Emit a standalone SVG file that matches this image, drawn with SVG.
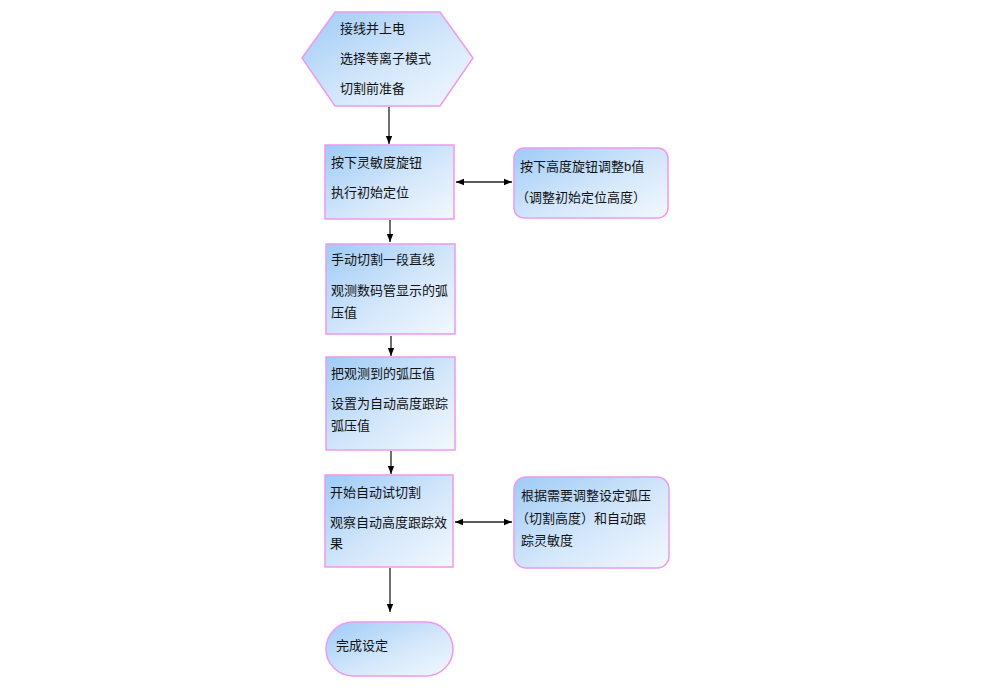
<svg xmlns="http://www.w3.org/2000/svg" width="1000" height="696" viewBox="0 0 1000 696">
<defs>
<linearGradient id="g" x1="0" y1="0" x2="1" y2="1">
<stop offset="0" stop-color="#9ecbf6"/>
<stop offset="0.55" stop-color="#d4e7fb"/>
<stop offset="1" stop-color="#f2f8fe"/>
</linearGradient>
<marker id="ah" viewBox="0 0 10 10" refX="10" refY="5" markerWidth="8" markerHeight="8" orient="auto-start-reverse" markerUnits="userSpaceOnUse">
<path d="M0,1 L10,5 L0,9 Z" fill="#000"/>
</marker>
<style>
.n{fill:url(#g);stroke:#ee99ee;stroke-width:1.5}
.t{font-family:"Liberation Sans","Noto Sans CJK SC",sans-serif;font-size:13px;fill:#111;dominant-baseline:central}
.c{stroke:#222;stroke-width:1.3;fill:none}
</style>
</defs>
<rect width="1000" height="696" fill="#fff"/>
<g id="connectors">
<line class="c" x1="389" y1="107" x2="389" y2="144" marker-end="url(#ah)"/>
<line class="c" x1="390" y1="220" x2="390" y2="242" marker-end="url(#ah)"/>
<line class="c" x1="391" y1="336" x2="391" y2="356" marker-end="url(#ah)"/>
<line class="c" x1="391" y1="451" x2="391" y2="474" marker-end="url(#ah)"/>
<line class="c" x1="390" y1="568" x2="390" y2="612" marker-end="url(#ah)"/>
<line class="c" x1="456" y1="182" x2="512" y2="182" marker-start="url(#ah)" marker-end="url(#ah)"/>
<line class="c" x1="455" y1="522" x2="512" y2="522" marker-start="url(#ah)" marker-end="url(#ah)"/>
</g>
<g id="n1">
<polygon class="n" points="302,58 335,12 440,12 473,58 440,106 335,106"/>
<text class="t" x="340" y="28">接线并上电</text>
<text class="t" x="340" y="58">选择等离子模式</text>
<text class="t" x="340" y="88">切割前准备</text>
</g>
<g id="n2">
<rect class="n" x="325" y="145" width="129" height="74"/>
<text class="t" x="331" y="162">按下灵敏度旋钮</text>
<text class="t" x="331" y="192">执行初始定位</text>
</g>
<g id="n3">
<rect class="n" x="514" y="148" width="154" height="70" rx="10"/>
<text class="t" x="520" y="166">按下高度旋钮调整b值</text>
<text class="t" x="516" y="197">（调整初始定位高度）</text>
</g>
<g id="n4">
<rect class="n" x="326" y="244" width="129" height="90"/>
<text class="t" x="331" y="259">手动切割一段直线</text>
<text class="t" x="331" y="290">观测数码管显示的弧</text>
<text class="t" x="331" y="312">压值</text>
</g>
<g id="n5">
<rect class="n" x="326" y="357" width="129" height="93"/>
<text class="t" x="331" y="373">把观测到的弧压值</text>
<text class="t" x="331" y="403">设置为自动高度跟踪</text>
<text class="t" x="331" y="425">弧压值</text>
</g>
<g id="n6">
<rect class="n" x="325" y="475" width="128" height="92"/>
<text class="t" x="330" y="492">开始自动试切割</text>
<text class="t" x="330" y="522">观察自动高度跟踪效</text>
<text class="t" x="330" y="543">果</text>
</g>
<g id="n7">
<rect class="n" x="514" y="477" width="155" height="91" rx="12"/>
<text class="t" x="521" y="495">根据需要调整设定弧压</text>
<text class="t" x="516" y="518">（切割高度）和自动跟</text>
<text class="t" x="521" y="540">踪灵敏度</text>
</g>
<g id="n8">
<rect class="n" x="326" y="622" width="127" height="54" rx="27"/>
<text class="t" x="336" y="645">完成设定</text>
</g>
</svg>
